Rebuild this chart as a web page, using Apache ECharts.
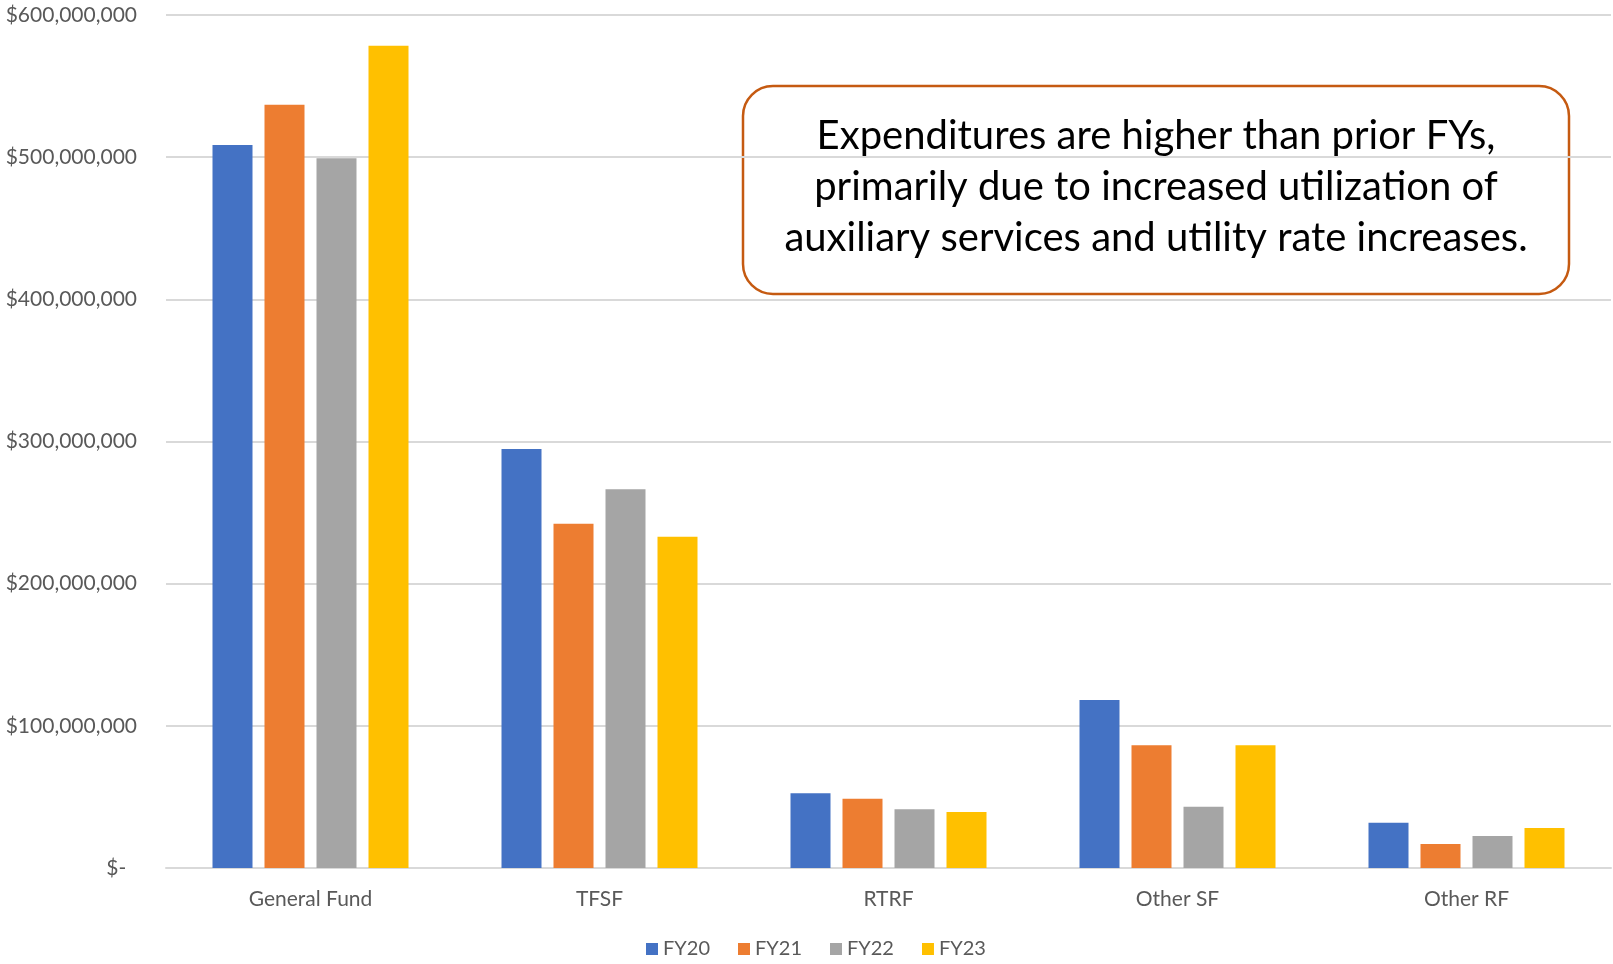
<!DOCTYPE html>
<html>
<head>
<meta charset="utf-8">
<script src="https://cdn.jsdelivr.net/npm/echarts@6/dist/echarts.min.js"></script>
<style>
  html, body { margin: 0; padding: 0; background: #fff; }
  #chart { width: 1613px; height: 964px; }
</style>
</head>
<body>
<div id="chart"></div>
<script>
const categories = ["General Fund", "TFSF", "RTRF", "Other SF", "Other RF"];
const fy20 = [508600000, 294700000, 52500000, 118100000, 31900000];
const fy21 = [536800000, 242100000, 48700000, 86300000, 16900000];
const fy22 = [499300000, 266500000, 41300000, 43100000, 22500000];
const fy23 = [578300000, 233000000, 39400000, 86300000, 28100000];
const seriesNames = ["FY20", "FY21", "FY22", "FY23"];
const colors = ["#4472C4", "#ED7D31", "#A5A5A5", "#FFC000"];
const note = [
  "Expenditures are higher than prior FYs,",
  "primarily due to increased utilization of",
  "auxiliary services and utility rate increases."
];

const font = "Lato, 'Noto Sans', sans-serif";

const formatDollars = (v) =>
  v === 0 ? "$-  " : "$" + v.toLocaleString("en-US");

const chart = echarts.init(document.getElementById("chart"));

chart.setOption({
  animation: false,
  color: colors,
  textStyle: { fontFamily: font },
  grid: { left: 166, right: 2, top: 15, bottom: 96 },
  legend: {
    data: seriesNames,
    bottom: 0,
    left: 641,
    itemWidth: 12,
    itemHeight: 12,
    itemGap: 28,
    icon: "rect",
    textStyle: { fontSize: 20, color: "#595959", fontFamily: font }
  },
  xAxis: {
    type: "category",
    data: categories,
    axisTick: { show: false },
    axisLine: { lineStyle: { color: "#D9D9D9", width: 2 } },
    axisLabel: { fontSize: 21, color: "#595959", margin: 21 }
  },
  yAxis: {
    type: "value",
    min: 0,
    max: 600000000,
    interval: 100000000,
    axisLine: { show: false },
    axisTick: { show: false },
    splitLine: { lineStyle: { color: "#D9D9D9", width: 2 } },
    axisLabel: {
      fontSize: 21,
      color: "#595959",
      margin: 29,
      formatter: formatDollars
    }
  },
  series: [fy20, fy21, fy22, fy23].map((d, i) => ({
    name: seriesNames[i],
    type: "bar",
    data: d,
    barWidth: 40,
    barGap: "30%"
  })),
  graphic: [
    {
      type: "group",
      z: 100,
      children: [
        {
          type: "rect",
          shape: { x: 743, y: 86, width: 826, height: 208, r: 30 },
          style: { fill: "#fff", stroke: "#C55A11", lineWidth: 2.5 }
        },
        {
          type: "text",
          x: 1156,
          y: 187,
          style: {
            text: note.join("\n"),
            font: "40px " + font,
            lineHeight: 51,
            fill: "#000",
            align: "center",
            verticalAlign: "middle"
          }
        }
      ]
    }
  ]
});
</script>
</body>
</html>
